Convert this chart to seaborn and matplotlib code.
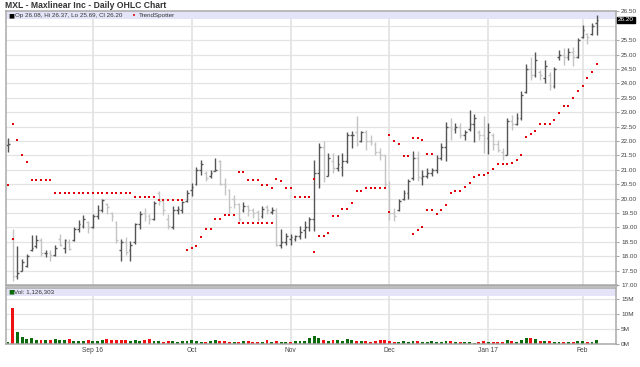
import numpy as np
import pandas as pd
import matplotlib
matplotlib.use("Agg")
import matplotlib.pyplot as plt
import seaborn as sns

# ---------------- data ----------------
holidays = ["2016-09-05", "2016-11-24", "2016-12-26", "2017-01-02", "2017-01-16"]
dates = pd.bdate_range("2016-08-08", "2017-02-06", freq="C", holidays=holidays)

opens = [21.85, 18.60, 17.30, 17.50, 17.65, 18.20, 18.35, 18.55, 18.10, 18.10,
         18.05, 18.60, 18.30, 18.50, 18.55, 18.95, 19.05, 19.20, 19.00, 19.40,
         19.60, 19.80, 19.50, 19.20, 18.20, 18.50, 18.20, 18.50, 19.10, 19.50,
         19.40, 19.30, 20.20, 19.90, 19.30, 19.00, 19.60, 19.60, 19.90, 20.30,
         20.50, 21.00, 20.90, 20.80, 20.95, 21.30, 20.50, 20.30, 20.00, 19.80,
         19.60, 19.75, 19.60, 19.55, 19.40, 19.70, 19.55, 19.60, 18.40, 18.50,
         18.60, 18.60, 18.70, 18.90, 19.00, 19.30, 20.90, 21.80, 20.80, 21.30,
         21.05, 21.10, 21.30, 22.20, 22.30, 22.00, 22.30, 22.00, 21.90, 21.60,
         21.50, 20.40, 19.50, 19.60, 20.00, 20.20, 20.70, 21.40, 20.70, 20.80,
         20.90, 21.00, 21.40, 21.80, 22.50, 22.40, 22.50, 22.20, 22.40, 22.60,
         22.30, 22.20, 22.10, 22.20, 21.90, 21.60, 21.50, 22.70, 22.60, 22.80,
         23.70, 24.50, 24.30, 24.40, 24.20, 24.30, 23.90, 24.90, 25.00, 24.90,
         25.10, 24.90, 25.60, 25.70, 25.70, 26.08]
highs = [22.10, 18.93, 18.35, 17.89, 18.06, 18.72, 18.72, 18.64, 18.23, 18.20,
         18.38, 18.78, 18.58, 18.58, 19.02, 19.26, 19.42, 19.21, 19.45, 19.79,
         20.00, 19.85, 19.54, 19.21, 18.58, 18.66, 18.52, 19.16, 19.58, 19.68,
         19.45, 19.91, 20.25, 19.96, 19.45, 19.73, 19.73, 19.93, 20.31, 20.54,
         21.08, 21.33, 20.97, 21.00, 21.41, 21.35, 20.71, 20.33, 20.14, 19.85,
         19.88, 19.79, 19.68, 19.62, 19.73, 19.77, 19.71, 19.68, 18.93, 18.81,
         18.78, 18.75, 19.04, 19.21, 19.35, 21.35, 21.92, 22.00, 21.58, 21.58,
         21.52, 21.58, 22.30, 22.35, 22.85, 22.35, 22.37, 22.21, 21.96, 21.75,
         21.52, 20.60, 19.68, 19.99, 20.31, 20.69, 21.66, 21.64, 21.00, 21.06,
         21.06, 21.52, 21.92, 22.67, 22.79, 22.62, 22.62, 22.39, 23.08, 22.93,
         22.39, 22.85, 22.62, 22.27, 22.04, 21.75, 22.79, 22.90, 22.96, 23.74,
         24.66, 24.92, 25.10, 24.46, 24.81, 24.40, 24.58, 25.15, 25.21, 25.21,
         25.27, 25.58, 26.02, 25.75, 26.08, 26.37]
lows = [21.60, 17.14, 17.20, 17.48, 17.62, 18.18, 18.27, 18.00, 17.97, 17.85,
        18.00, 18.35, 18.12, 18.20, 18.52, 18.85, 18.98, 18.81, 18.98, 19.30,
        19.54, 19.45, 19.21, 18.46, 17.83, 18.04, 17.83, 18.41, 18.93, 19.21,
        19.13, 19.27, 19.79, 19.42, 18.93, 18.93, 19.47, 19.50, 19.88, 20.08,
        20.48, 20.83, 20.60, 20.71, 20.94, 20.48, 20.14, 19.50, 19.68, 19.21,
        19.54, 19.39, 19.33, 19.21, 19.33, 19.47, 19.45, 18.35, 18.27, 18.38,
        18.38, 18.52, 18.58, 18.64, 18.89, 18.87, 20.37, 20.58, 20.77, 20.89,
        20.94, 20.77, 21.23, 21.75, 21.81, 21.98, 21.69, 21.87, 21.52, 21.35,
        20.37, 19.27, 19.21, 19.56, 19.96, 20.00, 20.65, 20.60, 20.48, 20.71,
        20.77, 20.89, 21.35, 21.29, 22.04, 22.27, 22.10, 22.04, 22.33, 21.98,
        22.04, 21.58, 21.56, 21.69, 21.61, 21.35, 21.50, 22.39, 22.56, 22.73,
        23.66, 24.12, 24.23, 24.12, 24.00, 23.77, 23.85, 24.81, 24.64, 24.81,
        24.61, 24.88, 25.56, 25.35, 25.67, 25.69]
closes = [21.90, 17.30, 17.40, 17.80, 18.00, 18.30, 18.55, 18.10, 18.10, 18.05,
          18.30, 18.40, 18.55, 18.25, 18.95, 19.10, 19.30, 19.00, 19.38, 19.60,
          19.95, 19.70, 19.40, 18.55, 18.50, 18.15, 18.40, 19.10, 19.45, 19.40,
          19.30, 19.85, 19.90, 19.60, 19.05, 19.60, 19.65, 19.88, 20.20, 20.40,
          21.00, 21.20, 20.70, 20.90, 21.00, 20.50, 20.45, 19.70, 19.80, 19.30,
          19.75, 19.60, 19.50, 19.30, 19.65, 19.60, 19.60, 18.40, 18.50, 18.70,
          18.65, 18.70, 18.85, 19.00, 19.30, 20.90, 21.80, 20.70, 21.40, 21.05,
          21.20, 21.30, 22.20, 22.20, 21.90, 22.30, 22.00, 21.95, 21.60, 21.50,
          20.50, 19.50, 19.40, 19.90, 20.20, 20.60, 21.40, 20.75, 20.80, 20.90,
          21.00, 21.40, 21.80, 22.50, 22.40, 22.50, 22.20, 22.30, 22.60, 22.80,
          22.20, 22.10, 22.30, 21.90, 21.70, 21.50, 22.70, 22.60, 22.80, 23.60,
          24.50, 24.30, 24.80, 24.30, 24.60, 23.90, 24.50, 25.00, 24.90, 25.10,
          24.90, 25.50, 25.85, 25.60, 26.00, 26.20]
volume_m = [0.6, 11.9, 4.1, 2.1, 1.7, 1.8, 1.4, 1.3, 1.2, 1.3,
            1.6, 1.3, 1.4, 1.5, 1.0, 1.0, 0.9, 1.1, 1.0, 1.0,
            1.2, 1.6, 1.1, 1.4, 1.2, 1.1, 1.0, 1.1, 0.9, 1.3,
            1.5, 0.8, 0.9, 0.7, 0.8, 0.9, 0.7, 1.0, 0.8, 1.1,
            0.9, 0.7, 0.5, 0.8, 1.4, 1.0, 0.8, 0.7, 0.6, 0.7,
            0.8, 0.8, 0.6, 0.7, 0.5, 1.2, 0.7, 0.8, 0.7, 0.6,
            0.7, 0.8, 0.9, 1.0, 1.8, 2.6, 1.8, 1.2, 1.0, 1.1,
            1.3, 1.0, 1.5, 1.2, 0.9, 1.0, 0.9, 0.6, 0.9, 1.1,
            1.3, 1.0, 0.7, 0.6, 0.8, 0.6, 0.8, 1.0, 0.6, 0.5,
            0.8, 0.6, 0.5, 1.0, 0.8, 0.7, 0.6, 0.5, 0.6, 0.4,
            0.6, 0.8, 0.7, 0.5, 0.6, 0.6, 1.3, 1.0, 0.6, 1.2,
            1.8, 1.9, 1.7, 1.0, 0.9, 0.9, 0.6, 0.7, 0.6, 0.6,
            0.7, 0.9, 0.8, 0.5, 0.6, 1.1]
N = None
trend_upper = [N, 22.58, 22.05, 21.52, 21.28, 20.64, 20.64, 20.64, 20.64, 20.64,
               20.21, 20.21, 20.21, 20.21, 20.21, 20.21, 20.21, 20.21, 20.21, 20.21,
               20.21, 20.21, 20.21, 20.21, 20.21, 20.21, 20.21, 20.07, 20.07, 20.07,
               20.07, 20.07, 19.96, 19.96, 19.96, 19.96, 19.96, 19.96, N, N,
               N, N, N, N, N, N, N, N, N, 20.91,
               20.91, 20.66, 20.66, 20.66, 20.47, 20.47, 20.37, 20.67, 20.62, 20.36,
               20.36, 20.04, 20.04, 20.04, 20.04, 20.67, N, N, N, N,
               N, N, N, N, N, N, N, N, N, N,
               N, 22.22, 22.00, 21.90, 21.49, 21.49, 22.11, 22.09, 22.03, 21.54,
               21.54, N, N, N, N, N, N, N, N, N,
               N, N, N, N, N, N, N, N, N, N,
               N, N, N, N, N, N, N, N, N, N,
               N, N, N, N, N, N]
trend_lower = [20.47, 18.60, N, N, N, N, N, N, N, N,
               N, N, N, N, N, N, N, N, N, N,
               N, N, N, N, N, N, N, N, N, N,
               N, N, N, N, N, N, N, N, 18.22, 18.30,
               18.35, 18.65, 18.96, 18.96, 19.30, 19.30, 19.42, 19.42, 19.42, 19.16,
               19.16, 19.16, 19.16, 19.16, 19.16, 19.16, 19.16, N, N, N,
               N, N, N, N, N, 18.15, 18.70, 18.70, 18.79, 19.41,
               19.41, 19.64, 19.64, 19.86, 20.25, 20.25, 20.36, 20.36, 20.36, 20.36,
               20.36, 19.55, N, N, N, N, 18.78, 18.90, 19.02, 19.60,
               19.60, 19.46, 19.62, 19.76, 20.19, 20.26, 20.26, 20.40, 20.55, 20.76,
               20.83, 20.83, 20.89, 21.03, 21.19, 21.19, 21.19, 21.23, 21.35, 21.52,
               22.12, 22.25, 22.33, 22.58, 22.58, 22.58, 22.72, 22.97, 23.23, 23.23,
               23.48, 23.75, 23.92, 24.20, 24.40, 24.68]
month_labels = ["Sep 16", "Oct", "Nov", "Dec", "Jan 17", "Feb"]
price_ticks = [26.5, 25.5, 25.0, 24.5, 24.0, 23.5, 23.0, 22.5, 22.0, 21.5, 21.0,
               20.5, 20.0, 19.5, 19.0, 18.5, 18.0, 17.5, 17.0]
vol_ticks_m = [0, 5, 10, 15]
vol_tick_labels = ["0M", "5M", "10M", "15M"]
last_close_label = "26.20"
title = "MXL - Maxlinear Inc - Daily OHLC Chart"
legend_text = "Op 26.08, Hi 26.37, Lo 25.69, Cl 26.20"
vol_text = "Vol: 1,126,303"

# ---------------- style ----------------
sns.set_theme(style="white")
plt.rcParams["font.family"] = ["Liberation Sans", "DejaVu Sans"]

df = pd.DataFrame({"date": dates, "open": opens, "high": highs, "low": lows,
                   "close": closes, "vol": volume_m,
                   "up": trend_upper, "lo": trend_lower})
df["x"] = np.arange(len(df))
df["prev"] = df["close"].shift(1).fillna(df["open"])

W, H = 640, 367
fig = plt.figure(figsize=(W / 100, H / 100), dpi=100)
fig.patch.set_facecolor("white")


def rect(l, t, r, b):
    return [l / W, 1 - b / H, (r - l) / W, (b - t) / H]


ax = fig.add_axes(rect(6, 11.3, 616, 285))
axv = fig.add_axes(rect(6, 287.5, 616, 343.7))

GRID = "#e4e4e4"
SPINE = "#a9a9a9"
DARK = "#555555"
LIGHT = "#c4c4c4"
RED = "#ee1111"
GREEN = "#0b6a0b"

month_pos = df.groupby([df.date.dt.year, df.date.dt.month])["x"].min().values[1:]

xlim = (-0.43, 129.1)
for a in (ax, axv):
    a.set_xlim(*xlim)
    for p in month_pos:
        a.axvline(p, color=GRID, lw=1.3, zorder=0)
    for s in a.spines.values():
        s.set_color(SPINE)
        s.set_linewidth(1.1)
ax.spines["bottom"].set_linewidth(1.8)

# main panel
ax.set_ylim(17.0, 26.5)
for t in np.arange(17.0, 26.51, 0.5):
    ax.axhline(t, color=GRID, lw=0.9, zorder=0)
ax.axhspan(26.22, 26.5, color="#e4e4f8", zorder=0.5, lw=0)

cols = np.where(df["close"] >= df["open"], DARK, LIGHT)
ax.vlines(df["x"], df["low"], df["high"], colors=cols, lw=1.0, zorder=2)
ax.hlines(df["open"], df["x"] - 0.38, df["x"], colors=cols, lw=1.0, zorder=2)
ax.hlines(df["close"], df["x"], df["x"] + 0.38, colors=cols, lw=1.0, zorder=2)

dots = pd.concat([df[["x", "up"]].rename(columns={"up": "v"}),
                  df[["x", "lo"]].rename(columns={"lo": "v"})]).dropna()
sns.scatterplot(data=dots, x="x", y="v", ax=ax, color="#e0000b", marker="s",
                s=4.0, linewidth=0, legend=False, zorder=3)

ax.yaxis.tick_right()
ax.set_yticks(price_ticks)
ax.set_yticklabels([f"{t:.2f}" for t in price_ticks])
ax.tick_params(axis="y", right=True, length=2.5, width=0.8, color=SPINE,
               labelsize=4.6, pad=1.2, labelcolor="#444444")
ax.set_xticks([])
ax.set_xlabel("")
ax.set_ylabel("")

ax.text(1.003, (26.2 - 17.0) / 9.5, last_close_label, transform=ax.transAxes,
        fontsize=4.6, color="white", va="center", ha="left",
        bbox=dict(boxstyle="square,pad=0.12", fc="black", ec="black"))

# volume panel
vmax = 18.9
axv.set_ylim(0, vmax)
for t in vol_ticks_m:
    axv.axhline(t, color=GRID, lw=0.9, zorder=0)
axv.axhspan(16.2, vmax, color="#e4e4f8", zorder=0.5, lw=0)
vcols = np.where(df["close"] >= df["prev"], GREEN, RED)
axv.bar(df["x"], df["vol"], width=0.62, color=vcols, zorder=2, lw=0)
axv.yaxis.tick_right()
axv.set_yticks(vol_ticks_m)
axv.set_yticklabels(vol_tick_labels)
axv.tick_params(axis="y", right=True, length=2.5, width=0.8, color=SPINE,
                labelsize=4.6, pad=1.2, labelcolor="#444444")
axv.set_xticks(month_pos)
axv.set_xticklabels(month_labels)
axv.tick_params(axis="x", bottom=False, length=0, labelsize=4.8, pad=2.2,
                labelcolor="#444444")
axv.set_xlabel("")
axv.set_ylabel("")

# texts
fig.text(5 / W, 1 - 5.5 / H, title, fontsize=6.2, fontweight="bold",
         color="#333333", va="center", ha="left")
fig.text(8 / W, 1 - 15.6 / H, "\u25a0", fontsize=4.5, color="black",
         va="center", ha="left", family=["DejaVu Sans"])
fig.text(15 / W, 1 - 15.6 / H, legend_text, fontsize=4.5, color="#333333",
         va="center", ha="left")
fig.text(132 / W, 1 - 15.6 / H, "\u2022", fontsize=5, color="#e0000b",
         va="center", ha="left", family=["DejaVu Sans"])
fig.text(139 / W, 1 - 15.6 / H, "TrendSpotter", fontsize=4.5, color="#333333",
         va="center", ha="left")
fig.text(8 / W, 1 - 291.5 / H, "\u25a0", fontsize=4.5, color=GREEN,
         va="center", ha="left", family=["DejaVu Sans"])
fig.text(14 / W, 1 - 291.5 / H, vol_text, fontsize=4.5, color="#333333",
         va="center", ha="left")

fig.savefig("out.png", dpi=100, facecolor="white")
